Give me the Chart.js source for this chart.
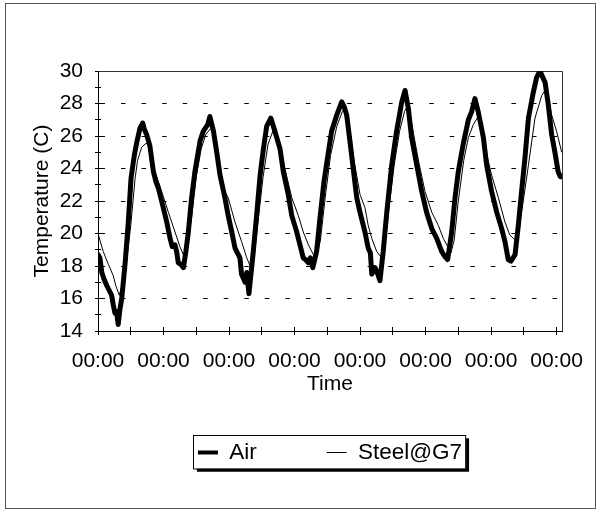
<!DOCTYPE html>
<html>
<head>
<meta charset="utf-8">
<script src="https://cdn.jsdelivr.net/npm/chart.js@4.4.1/dist/chart.umd.min.js"></script>
<style>
  body { margin: 0; background: #fff; }
  canvas { display: block; }
</style>
</head>
<body>
<canvas id="myChart" width="602" height="515"></canvas>
<script>
// hours since the first midnight
const airHours = [0, 0.7, 1.4, 2.2, 3.2, 4.4, 5.0, 5.6, 6.2, 6.8, 7.4, 8.0, 8.7, 9.9, 11.1, 12.1, 13.3, 14.2, 15.4, 16.4,
  17.0, 17.8, 19.0, 20.3, 21.2, 22.1, 23.9, 25.2, 26.4, 27.2, 28.2, 28.8, 29.4, 30.4, 31.3,
  32.2, 33.1, 34.3, 35.5, 37.4, 38.6, 40.2, 41.0,
  42.3, 43.5, 44.7, 46.5, 47.7, 49.0, 50.2, 51.4, 52.0, 52.6, 53.9, 54.5, 55.3,
  56.9, 58.1, 59.4, 60.6, 61.8, 63.3,
  64.8, 66.7, 67.9, 69.7, 71.0, 72.8, 74.0, 75.2, 76.0, 77.1, 77.8, 78.7,
  80.1, 81.3, 82.8, 84.4, 85.6, 87.5, 89.3,
  90.2, 91.1, 92.3, 93.5, 94.8, 96.0, 97.8, 99.0, 99.8, 100.3, 101.5, 102.3, 103.3,
  104.5, 105.8, 107.6, 109.4, 111.3, 112.5,
  113.7, 114.9, 116.8, 118.6, 120.4, 122.3, 124.1, 125.9, 127.0, 128.1,
  129.6, 130.8, 132.0, 133.8, 135.7, 136.9, 138.1, 139.3,
  141.2, 142.4, 144.2, 146.1, 147.9, 149.1, 150.3, 151.3, 152.8,
  154.0, 155.2, 156.4, 157.7, 159.5, 160.7, 161.9,
  163.8, 165.0, 166.2, 167.4, 168.6, 169.4, 169.9];
const airTemp = [18.7, 18.5, 17.6, 17.2, 16.8, 16.4, 16.2, 15.6, 15.1, 15.2, 14.4, 15.3, 16.0, 18.1, 20.7, 23.4, 24.8, 25.6, 26.5, 26.8,
  26.4, 26.1, 25.4, 23.8, 23.2, 22.8, 21.6, 20.7, 19.7, 19.2, 19.3, 18.9, 18.2, 18.1, 17.9,
  18.9, 20.1, 22.2, 23.8, 25.7, 26.3, 26.7, 27.2,
  26.3, 25.0, 23.6, 22.2, 21.1, 20.1, 19.1, 18.7, 18.5, 17.5, 17.0, 17.6, 16.3,
  18.9, 21.1, 23.6, 25.2, 26.6, 27.1,
  26.3, 25.2, 23.8, 22.4, 21.1, 20.1, 19.3, 18.5, 18.4, 18.2, 18.5, 17.9,
  18.9, 20.9, 23.2, 25.0, 26.3, 27.3, 28.1,
  27.8, 27.3, 25.7, 24.0, 22.2, 21.3, 20.1, 19.1, 18.8, 17.5, 17.9, 17.6, 17.1,
  18.9, 21.3, 24.2, 26.3, 28.1, 28.8,
  27.7, 25.9, 24.2, 22.6, 21.3, 20.3, 19.7, 18.9, 18.6, 18.4,
  20.1, 22.2, 23.8, 25.5, 27.0, 27.5, 28.3, 27.5,
  25.9, 24.2, 22.6, 21.3, 20.3, 19.5, 18.4, 18.3, 18.7,
  20.5, 22.6, 24.6, 27.1, 28.7, 29.6, 30.0,
  29.3, 27.9, 26.1, 25.0, 23.8, 23.5, 23.5];

const steelHours = [0.0, 1.9, 3.8, 5.6, 6.5, 7.8, 9.0, 10.5, 12.0, 13.6, 14.5, 16.0, 17.2, 18.5, 19.7, 20.9, 23.3, 25.8, 28.2, 30.0, 31.5,
  32.8, 34.3, 36.0, 37.8, 39.5, 41.5, 42.8, 44.5, 46.5, 47.7, 50.2, 52.6, 54.5, 56.0,
  57.3, 58.8, 60.5, 62.3, 64.3, 65.5, 67.9, 71.0, 73.4, 75.2, 77.1, 78.9, 80.2,
  81.5, 83.3, 85.2, 87.5, 89.5, 90.5, 91.8, 93.8, 96.0, 97.8, 99.0, 100.3, 102.1, 103.9,
  105.0, 106.5, 108.5, 110.5, 112.3, 113.5, 115.0, 117.5, 119.8, 122.3, 124.7, 126.5, 128.1, 129.3,
  130.5, 132.0, 134.0, 135.7, 137.5, 139.3, 140.5, 142.5, 144.2, 146.7, 149.1, 150.9, 152.8,
  153.8, 155.2, 157.7, 160.1, 162.6, 163.8, 165.0, 166.2, 168.0, 169.9];
const steelTemp = [20.0, 18.9, 18.1, 17.4, 16.8, 16.2, 16.9, 18.3, 20.5, 23.4, 24.5, 25.3, 25.5, 25.6, 24.6, 23.8, 22.6, 21.3, 20.1, 19.2, 18.6,
  19.3, 21.0, 23.5, 25.2, 26.1, 26.5, 25.9, 24.0, 22.6, 22.2, 20.7, 19.5, 18.5, 17.9,
  18.7, 21.0, 23.5, 25.5, 26.4, 26.0, 24.4, 22.2, 21.1, 20.1, 19.3, 18.7, 18.6,
  19.6, 22.3, 24.8, 26.6, 27.5, 27.8, 27.0, 24.5, 22.4, 21.6, 20.5, 19.7, 18.9, 18.5,
  19.1, 21.4, 24.2, 26.3, 27.5, 27.9, 26.7, 24.4, 22.6, 21.3, 20.5, 19.7, 19.2, 18.8,
  19.6, 22.0, 24.5, 25.9, 26.7, 27.2, 26.6, 24.8, 23.6, 22.2, 20.7, 19.9, 19.6,
  19.8, 21.3, 24.2, 27.1, 28.5, 28.8, 28.3, 27.3, 26.3, 25.0];

const xTickHours = [0, 12, 24, 36, 48, 60, 72, 84, 96, 108, 120, 132, 144, 156, 168];
const xTickLabels = ['00:00', '', '00:00', '', '00:00', '', '00:00', '', '00:00', '', '00:00', '', '00:00', '', '00:00'];
const yTickValues = [14, 15, 16, 17, 18, 19, 20, 21, 22, 23, 24, 25, 26, 27, 28, 29, 30];
const yTickLabels = ['14', '', '16', '', '18', '', '20', '', '22', '', '24', '', '26', '', '28', '', '30'];

Chart.defaults.font.family = "'Liberation Sans', Arial, sans-serif";
Chart.defaults.font.size = 21;
Chart.defaults.color = '#000';

const pixel = (p) => Math.round(p - 0.5) + 0.5;

// outer frame, legend box, inner halves of the tick marks and the plot frame
const frame = {
  id: 'frame',
  beforeDraw(chart) {
    const {ctx, legend} = chart;
    ctx.save();
    ctx.strokeStyle = '#555';
    ctx.lineWidth = 1;
    ctx.strokeRect(5.5, 3.5, 590, 505);
    const hb = legend.legendHitBoxes;
    const last = hb[hb.length - 1];
    const l = hb[0].left - 4, r = last.left + last.width + 4;
    const t = hb[0].top - 6, b = hb[0].top + hb[0].height + 5;
    ctx.fillStyle = '#000';
    ctx.fillRect(l + 3, t + 3, r - l, b - t);
    ctx.fillStyle = '#fff';
    ctx.fillRect(l, t, r - l, b - t);
    ctx.strokeStyle = '#000';
    ctx.strokeRect(pixel(l), pixel(t), r - l, b - t);
    ctx.restore();
  },
  beforeDatasetsDraw(chart) {
    const {ctx, chartArea: a, scales} = chart;
    ctx.save();
    ctx.strokeStyle = '#000';
    ctx.lineWidth = 1;
    ctx.beginPath();
    scales.x.ticks.forEach(t => {
      const px = pixel(scales.x.getPixelForValue(t.value));
      ctx.moveTo(px, a.bottom);
      ctx.lineTo(px, a.bottom - 4);
    });
    scales.y.ticks.forEach(t => {
      const py = pixel(scales.y.getPixelForValue(t.value));
      ctx.moveTo(a.left, py);
      ctx.lineTo(a.left + 3, py);
    });
    ctx.stroke();
    ctx.strokeStyle = '#333';
    ctx.beginPath();
    ctx.moveTo(pixel(a.left), pixel(a.top));
    ctx.lineTo(pixel(a.right), pixel(a.top));
    ctx.lineTo(pixel(a.right), pixel(a.bottom));
    ctx.stroke();
    ctx.restore();
  }
};

const ctx = document.getElementById('myChart').getContext('2d');
const myChart = new Chart(ctx, {
  type: 'line',
  data: {
    datasets: [{
      label: 'Air',
      data: airHours.map((h, i) => ({x: h, y: airTemp[i]})),
      borderColor: '#000',
      backgroundColor: '#000',
      borderWidth: 5,
      pointRadius: 0,
      pointBorderWidth: 4,
      pointBorderColor: '#000',
      borderJoinStyle: 'round',
      borderCapStyle: 'round',
      tension: 0,
      fill: false
    }, {
      label: 'Steel@G7',
      data: steelHours.map((h, i) => ({x: h, y: steelTemp[i]})),
      borderColor: '#000',
      backgroundColor: '#000',
      borderWidth: 1,
      pointRadius: 0,
      pointBorderWidth: 1,
      pointBorderColor: '#000',
      tension: 0,
      fill: false
    }]
  },
  options: {
    responsive: false,
    animation: false,
    layout: { padding: { top: 71, left: 20, right: 40, bottom: 41.25 } },
    scales: {
      x: {
        type: 'linear',
        min: 0,
        max: 170,
        afterBuildTicks: (s) => { s.ticks = xTickHours.map(v => ({value: v})); },
        afterFit: (s) => { s.height = 40.25; },
        grid: { drawOnChartArea: false, tickLength: 4, tickColor: '#000' },
        border: { color: '#000' },
        ticks: {
          autoSkip: false,
          maxRotation: 0,
          minRotation: 0,
          padding: 14,
          callback: (v, i) => xTickLabels[i]
        },
        title: { display: true, text: 'Time', padding: { top: 0, bottom: -25.35 } }
      },
      y: {
        type: 'linear',
        min: 14,
        max: 30,
        afterBuildTicks: (s) => { s.ticks = yTickValues.map(v => ({value: v})); },
        afterFit: (s) => { s.width = 78; },
        grid: {
          color: (c) => (c.tick && c.tick.value > 14 && c.tick.value < 30 && c.tick.value % 2 === 0) ? '#000' : 'rgba(0,0,0,0)',
          tickLength: 3,
          tickColor: '#000'
        },
        border: { color: '#000', dash: [4.5, 16.05], dashOffset: 19.1 },
        ticks: {
          autoSkip: false,
          padding: 12,
          callback: (v, i) => yTickLabels[i]
        },
        title: { display: true, text: 'Temperature (C)', padding: { top: 10, bottom: 0 } }
      }
    },
    plugins: {
      legend: {
        position: 'bottom',
        fullSize: false,
        labels: {
          usePointStyle: true,
          pointStyle: 'line',
          pointStyleWidth: 20,
          padding: 70,
          color: '#000',
          font: { size: 22.5 }
        }
      },
      tooltip: { enabled: false }
    }
  },
  plugins: [frame]
});
</script>
</body>
</html>
